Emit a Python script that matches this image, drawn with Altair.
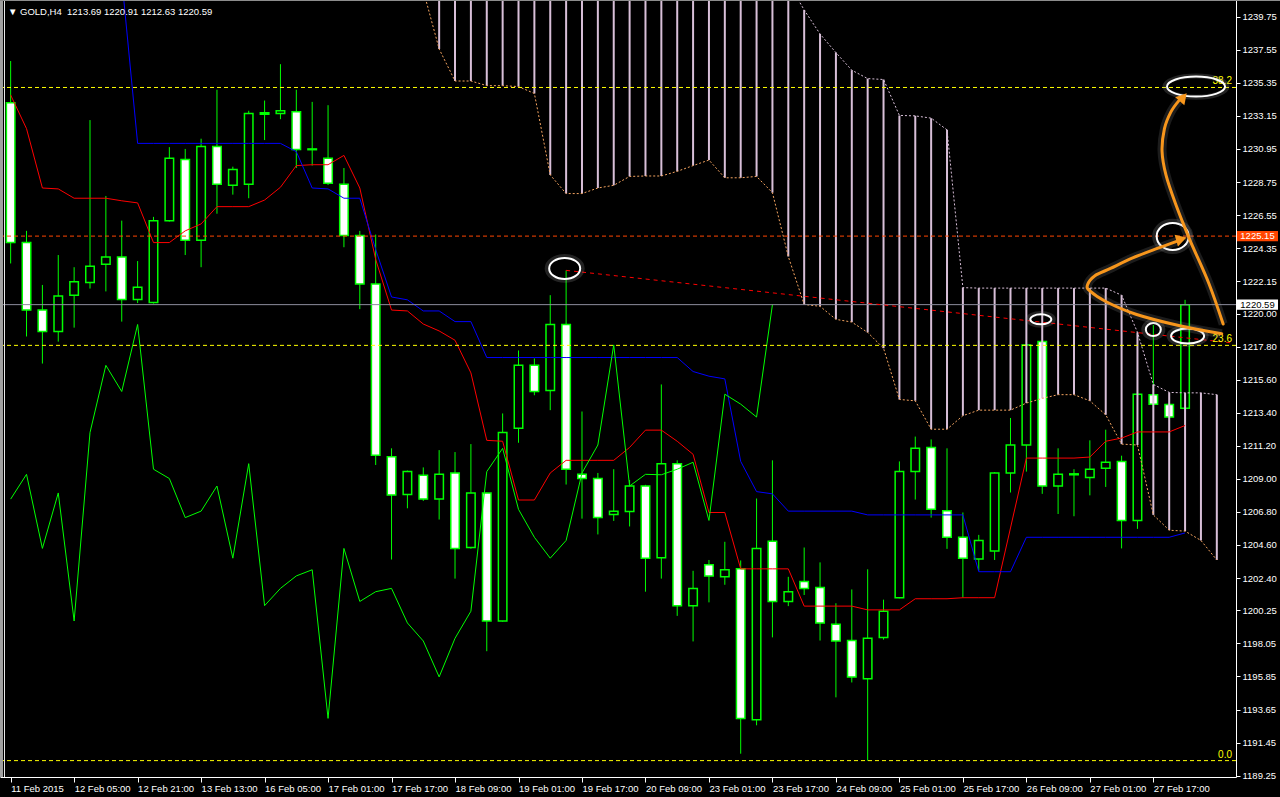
import json
import altair as alt
import pandas as pd

# ---------------- GOLD, H4 candles (bar index 0..74) ----------------
opens = [1234.02, 1224.72, 1220.23, 1218.81, 1221.22, 1222.06, 1223.27, 1223.76, 1220.94, 1220.73,
         1226.18, 1230.24, 1224.88, 1231.11, 1228.54, 1228.60, 1233.25, 1233.31, 1233.43, 1230.95,
         1230.33, 1228.60, 1225.19, 1221.97, 1210.47, 1207.96, 1209.23, 1207.65, 1209.39, 1204.43,
         1208.06, 1199.54, 1212.36, 1216.55, 1214.87, 1219.27, 1209.30, 1209.02, 1206.63, 1206.82,
         1208.52, 1203.75, 1210.01, 1200.56, 1203.29, 1202.48, 1203.01, 1192.97, 1204.84, 1200.84,
         1202.17, 1201.77, 1199.32, 1198.24, 1195.70, 1198.45, 1201.09, 1209.48, 1211.09, 1206.88,
         1205.11, 1203.66, 1204.19, 1209.39, 1211.25, 1218.13, 1208.52, 1209.33, 1209.08, 1209.70,
         1210.16, 1206.23, 1214.60, 1213.94, 1213.69]
highs = [1236.80, 1225.50, 1221.90, 1223.89, 1223.08, 1232.87, 1227.82, 1226.18, 1223.49, 1226.43,
         1231.07, 1230.95, 1231.63, 1234.89, 1229.77, 1233.49, 1234.17, 1236.59, 1234.89, 1234.08,
         1233.86, 1229.68, 1225.50, 1225.25, 1211.03, 1209.55, 1209.76, 1210.91, 1210.78, 1211.31,
         1208.10, 1213.35, 1217.54, 1217.01, 1221.22, 1222.87, 1213.48, 1209.39, 1209.64, 1208.92,
         1208.60, 1215.28, 1210.23, 1202.88, 1203.60, 1204.81, 1203.57, 1207.69, 1210.23, 1202.48,
         1204.43, 1203.44, 1200.72, 1201.64, 1202.98, 1200.96, 1210.16, 1211.81, 1211.62, 1211.03,
         1206.76, 1205.27, 1209.45, 1213.05, 1217.95, 1218.20, 1211.03, 1209.64, 1211.56, 1212.27,
         1210.54, 1214.70, 1219.24, 1214.00, 1220.91]
lows = [1223.33, 1218.47, 1216.67, 1218.13, 1219.06, 1221.66, 1221.47, 1219.46, 1220.70, 1220.66,
        1226.12, 1223.89, 1223.08, 1226.64, 1227.91, 1227.67, 1231.54, 1232.93, 1229.68, 1229.84,
        1228.55, 1224.41, 1220.29, 1209.92, 1203.63, 1207.04, 1207.53, 1206.29, 1202.36, 1204.35,
        1197.53, 1199.50, 1211.40, 1214.56, 1213.57, 1208.62, 1206.35, 1205.30, 1206.20, 1205.83,
        1201.49, 1202.36, 1199.88, 1198.18, 1200.78, 1201.95, 1190.71, 1192.60, 1198.45, 1200.53,
        1201.27, 1198.24, 1194.46, 1195.45, 1190.24, 1198.30, 1201.05, 1207.62, 1206.42, 1204.34,
        1201.09, 1202.88, 1203.60, 1208.09, 1209.48, 1208.00, 1206.66, 1206.51, 1207.90, 1208.46,
        1204.37, 1205.67, 1213.90, 1213.05, 1212.63]
closes = [1224.72, 1220.23, 1218.81, 1221.16, 1222.12, 1223.14, 1223.76, 1220.94, 1221.75, 1226.18,
          1230.33, 1224.88, 1231.11, 1228.60, 1229.59, 1233.31, 1233.35, 1233.49, 1230.92, 1230.90,
          1228.66, 1225.19, 1221.97, 1210.57, 1207.93, 1209.48, 1207.65, 1209.30, 1204.37, 1208.06,
          1199.54, 1212.08, 1216.55, 1214.81, 1219.27, 1209.64, 1209.02, 1206.42, 1206.85, 1208.52,
          1203.72, 1210.01, 1200.56, 1201.71, 1202.54, 1202.95, 1193.06, 1204.37, 1200.84, 1201.49,
          1201.71, 1199.41, 1198.21, 1195.82, 1198.39, 1200.19, 1209.48, 1211.03, 1206.97, 1205.11,
          1203.72, 1204.90, 1209.39, 1211.25, 1217.91, 1208.52, 1209.30, 1209.27, 1209.64, 1210.10,
          1206.23, 1214.63, 1213.97, 1213.11, 1220.59]

# ---------------- Ichimoku lines ----------------
tenkan = [1234.54, 1232.30, 1228.35, 1228.29, 1227.67, 1227.67, 1227.67, 1227.50, 1227.36, 1224.72,
          1224.72, 1225.50, 1225.96, 1227.11, 1227.11, 1227.11, 1227.55, 1228.40, 1229.84, 1229.90,
          1229.90, 1230.52, 1228.35, 1223.60, 1220.23, 1220.17, 1219.30, 1218.84, 1218.22, 1216.05,
          1211.56, 1211.50, 1207.59, 1207.59, 1209.39, 1210.23, 1210.23, 1210.23, 1210.23, 1211.09,
          1212.24, 1212.24, 1211.50, 1210.63, 1206.76, 1206.76, 1203.01, 1203.01, 1203.01, 1203.01,
          1200.53, 1200.53, 1200.53, 1200.53, 1200.28, 1200.28, 1200.28, 1201.02, 1201.02, 1201.02,
          1201.09, 1201.09, 1201.09, 1205.73, 1210.38, 1210.38, 1210.38, 1210.38, 1210.45, 1211.50,
          1211.71, 1212.12, 1212.12, 1212.12, 1212.55]

kijun_start = 7
kijun = [1242.30, 1231.32, 1231.32, 1231.32, 1231.32, 1231.32, 1231.32, 1231.32, 1231.32, 1231.32,
         1231.32, 1230.77, 1228.35, 1228.29, 1227.67, 1227.67, 1224.26, 1221.10, 1220.91, 1220.17,
         1220.17, 1219.46, 1219.46, 1217.07, 1217.07, 1217.07, 1217.07, 1217.07, 1217.07, 1217.07,
         1217.07, 1217.07, 1217.07, 1217.07, 1217.07, 1217.07, 1216.14, 1215.83, 1215.65, 1210.16,
         1208.15, 1208.00, 1206.85, 1206.85, 1206.85, 1206.85, 1206.85, 1206.60, 1206.60, 1206.60,
         1206.60, 1206.60, 1206.60, 1206.60, 1202.82, 1202.82, 1202.82, 1205.11, 1205.11, 1205.11,
         1205.11, 1205.11, 1205.11, 1205.11, 1205.11, 1205.11, 1205.11, 1205.40]

cloud_start = 26
span_a = [1241.50, 1237.60, 1235.47, 1235.47, 1235.16, 1235.16, 1235.10, 1234.64, 1229.22, 1227.98,
          1227.98, 1228.35, 1228.53, 1229.12, 1229.15, 1229.15, 1229.46, 1229.84, 1230.21, 1229.03,
          1229.03, 1229.12, 1228.04, 1223.79, 1220.60, 1220.48, 1219.61, 1219.43, 1218.74, 1217.69,
          1214.28, 1214.19, 1212.30, 1212.30, 1213.20, 1213.57, 1213.57, 1213.57, 1214.04, 1214.35,
          1214.60, 1214.60, 1214.19, 1213.26, 1211.31, 1211.25, 1206.60, 1205.58, 1205.52, 1204.90,
          1203.60]
span_b = [1245.00, 1245.00, 1245.00, 1245.00, 1245.00, 1245.00, 1245.00, 1245.00, 1245.00, 1245.00,
          1245.00, 1245.00, 1245.00, 1245.00, 1245.00, 1245.00, 1245.00, 1245.00, 1245.00, 1245.00,
          1245.00, 1245.00, 1245.00, 1242.00, 1240.20, 1238.60, 1237.36, 1236.19, 1235.63, 1235.57,
          1233.18, 1233.15, 1233.00, 1232.22, 1221.72, 1221.69, 1221.69, 1221.69, 1221.69, 1221.69,
          1221.69, 1221.69, 1221.69, 1221.69, 1221.22, 1218.75, 1215.28, 1214.75, 1214.72, 1214.72,
          1214.60]

chikou_shift = 26

# ---------------- axes ----------------
time_labels = ["11 Feb 2015", "12 Feb 05:00", "12 Feb 21:00", "13 Feb 13:00", "16 Feb 05:00",
               "17 Feb 01:00", "17 Feb 17:00", "18 Feb 09:00", "19 Feb 01:00", "19 Feb 17:00",
               "20 Feb 09:00", "23 Feb 01:00", "23 Feb 17:00", "24 Feb 09:00", "25 Feb 01:00",
               "25 Feb 17:00", "26 Feb 09:00", "27 Feb 01:00", "27 Feb 17:00"]
time_label_step = 4
price_ticks = [1239.75, 1237.55, 1235.35, 1233.15, 1230.95, 1228.75, 1226.55, 1224.35, 1222.15,
               1220.00, 1217.80, 1215.60, 1213.40, 1211.20, 1209.00, 1206.80, 1204.60, 1202.40,
               1200.25, 1198.05, 1195.85, 1193.65, 1191.45, 1189.25]

# ---------------- drawn objects ----------------
fib_names = ["0.0", "23.6", "38.2"]
fib_prices = [1190.25, 1217.88, 1235.04]
alert_price = 1225.15
trend_idx = [35, 76.9]
trend_price = [1222.87, 1218.05]

ellipse_idx = [34.91, 64.91, 72.0, 74.16, 73.22, 74.69]
ellipse_price = [1223.0, 1219.61, 1218.93, 1218.5, 1225.13, 1235.1]
ellipse_w = [31, 21, 15, 33, 32, 58]
ellipse_h = [21, 10, 13, 15, 27, 20]

arrow1_idx = [76.31, 73.6, 70.9, 69.0, 68.0, 67.85, 68.3, 69.3, 70.7, 72.3, 73.6]
arrow1_price = [1218.65, 1219.2, 1219.95, 1220.8, 1221.5, 1221.9, 1222.5, 1223.0, 1223.7, 1224.35, 1224.85]
arrow2_idx = [76.4, 75.5, 74.3, 73.4, 72.8, 72.55, 72.7, 73.1, 73.6]
arrow2_price = [1219.3, 1222.0, 1224.9, 1227.3, 1229.2, 1230.8, 1232.3, 1233.4, 1234.15]
head_idx = [73.66, 73.81]
head_price = [1224.92, 1234.3]
head_angle = [74, 41]

# ---------------- frames ----------------
n = len(closes)
candles = pd.DataFrame({"idx": list(range(n)), "open": opens, "high": highs,
                        "low": lows, "close": closes})
tenkan_df = pd.DataFrame({"idx": list(range(n)), "v": tenkan})
kijun_df = pd.DataFrame({"idx": list(range(kijun_start, kijun_start + len(kijun))), "v": kijun})
cloud_df = pd.DataFrame({"idx": list(range(cloud_start, cloud_start + len(span_a))),
                         "a": span_a, "b": span_b})
chikou_df = pd.DataFrame({"idx": [i - chikou_shift for i in range(chikou_shift, n)],
                          "v": closes[chikou_shift:]})
fib_df = pd.DataFrame({"price": fib_prices, "label": fib_names})
trend_df = pd.DataFrame({"idx": trend_idx, "price": trend_price})
arrow1_df = pd.DataFrame({"idx": arrow1_idx, "price": arrow1_price, "ord": list(range(len(arrow1_idx)))})
arrow2_df = pd.DataFrame({"idx": arrow2_idx, "price": arrow2_price, "ord": list(range(len(arrow2_idx)))})

PLOT_W, PLOT_H = 1236, 777
xs = alt.Scale(domain=[-0.356, 76.894], nice=False, zero=False)
ys = alt.Scale(domain=[1189.16, 1240.86], nice=False, zero=False)
FONT = "Liberation Sans"
FS = 9.5

label_expr = json.dumps(time_labels) + f"[round(datum.value / {time_label_step})]"
x_axis = alt.Axis(values=list(range(0, time_label_step * len(time_labels), time_label_step)),
                  labelExpr=label_expr, title=None, grid=False, orient="bottom",
                  domainColor="white", domainWidth=1, tickColor="white", tickSize=5,
                  labelColor="white", labelFont=FONT, labelFontSize=FS, labelAlign="left",
                  labelBaseline="top", labelPadding=1, labelOverlap=False,
                  labelFlush=False)
y_axis = alt.Axis(values=price_ticks, format=".2f", orient="right", title=None, grid=False,
                  domainColor="white", domainWidth=1, tickColor="white", tickSize=4,
                  labelColor="white", labelFont=FONT, labelFontSize=FS, labelPadding=2,
                  labelOverlap=False, labelFlush=False)


def X(field="idx"):
    return alt.X(field, type="quantitative", scale=xs, axis=x_axis)


def Y(field):
    return alt.Y(field, type="quantitative", scale=ys, axis=y_axis)


LIME = "#00ff00"
layers = []

# candles
layers.append(alt.Chart(candles).mark_rule(color=LIME, strokeWidth=1)
              .encode(x=X(), y=Y("low"), y2="high"))
layers.append(alt.Chart(candles).transform_filter("datum.close >= datum.open")
              .mark_bar(size=8.5, fill="black", stroke=LIME, strokeWidth=1.5)
              .encode(x=X(), y=Y("open"), y2="close"))
layers.append(alt.Chart(candles).transform_filter("datum.close < datum.open")
              .mark_bar(size=8.5, fill="white", stroke=LIME, strokeWidth=1.5)
              .encode(x=X(), y=Y("open"), y2="close"))

# kumo
layers.append(alt.Chart(cloud_df).mark_rule(color="#d8bfd8", strokeWidth=2, clip=True)
              .encode(x=X(), y=Y("a"), y2="b"))
layers.append(alt.Chart(cloud_df).mark_line(color="#f4a460", strokeWidth=1, strokeDash=[2, 2], clip=True)
              .encode(x=X(), y=Y("a")))
layers.append(alt.Chart(cloud_df).mark_line(color="#d8bfd8", strokeWidth=1, strokeDash=[2, 2], clip=True)
              .encode(x=X(), y=Y("b")))

# tenkan / kijun / chikou
layers.append(alt.Chart(tenkan_df).mark_line(color="#ff0000", strokeWidth=1, clip=True)
              .encode(x=X(), y=Y("v")))
layers.append(alt.Chart(kijun_df).mark_line(color="#0000ff", strokeWidth=1, clip=True)
              .encode(x=X(), y=Y("v")))
layers.append(alt.Chart(chikou_df).mark_line(color=LIME, strokeWidth=1, clip=True)
              .encode(x=X(), y=Y("v")))

# horizontal levels
layers.append(alt.Chart(fib_df).mark_rule(color="#ffff00", strokeWidth=1, strokeDash=[4, 3])
              .encode(y=Y("price")))
layers.append(alt.Chart(pd.DataFrame({"price": [alert_price]}))
              .mark_rule(color="#ff4500", strokeWidth=1, strokeDash=[4, 3])
              .encode(y=Y("price")))
layers.append(alt.Chart(pd.DataFrame({"price": [closes[-1]]}))
              .mark_rule(color="#8c8c9c", strokeWidth=1)
              .encode(y=Y("price")))

# trend line
layers.append(alt.Chart(trend_df).mark_line(color="#ff0000", strokeWidth=1, strokeDash=[4, 4], clip=True)
              .encode(x=X(), y=Y("price")))

# fib level captions
layers.append(alt.Chart(fib_df).mark_text(align="right", baseline="bottom", dy=-1, color="#ffff00",
                                          font=FONT, fontSize=10)
              .encode(x=alt.value(1232), y=Y("price"), text="label:N"))


# ellipses
def ellipse_path(w, h):
    r = h / w
    return f"M-1,0 A1,{r:.4f} 0 1,1 1,0 A1,{r:.4f} 0 1,1 -1,0 Z"


for i in range(len(ellipse_idx)):
    edf = pd.DataFrame({"idx": [ellipse_idx[i]], "price": [ellipse_price[i]]})
    shape = ellipse_path(ellipse_w[i], ellipse_h[i])
    layers.append(alt.Chart(edf).mark_point(shape=shape, size=(ellipse_w[i] + 4) ** 2, filled=False,
                                            stroke="#9a9a9a", strokeWidth=5, opacity=0.22)
                  .encode(x=X(), y=Y("price")))
    layers.append(alt.Chart(edf).mark_point(shape=shape, size=ellipse_w[i] ** 2, filled=False,
                                            stroke="white", strokeWidth=2, opacity=1)
                  .encode(x=X(), y=Y("price")))

# orange arrows
ORANGE = "#f7961c"
for adf in (arrow1_df, arrow2_df):
    layers.append(alt.Chart(adf).mark_line(color="#9a9a9a", strokeWidth=9, opacity=0.18,
                                           interpolate="cardinal")
                  .encode(x=X(), y=Y("price"), order="ord:Q"))
    layers.append(alt.Chart(adf).mark_line(color=ORANGE, strokeWidth=3, interpolate="cardinal",
                                           strokeCap="round")
                  .encode(x=X(), y=Y("price"), order="ord:Q"))
for i in range(len(head_idx)):
    hdf = pd.DataFrame({"idx": [head_idx[i]], "price": [head_price[i]]})
    layers.append(alt.Chart(hdf).mark_point(shape="triangle", size=150, filled=True, fill=ORANGE,
                                            opacity=1, angle=head_angle[i])
                  .encode(x=X(), y=Y("price")))

# price tags on the scale
tag_shape = "M-1,-0.25 L1,-0.25 L1,0.25 L-1,0.25 Z"
tags = [(alert_price, "#ff4500", "white"), (closes[-1], "white", "black")]
for price, bg, fg in tags:
    tdf = pd.DataFrame({"price": [price], "txt": [f"{price:.2f}"]})
    layers.append(alt.Chart(tdf).mark_point(shape=tag_shape, size=41 ** 2, filled=True, fill=bg,
                                            opacity=1, strokeWidth=0)
                  .encode(x=alt.value(1257.5), y=Y("price")))
    layers.append(alt.Chart(tdf).mark_text(align="center", baseline="middle", color=fg,
                                           font=FONT, fontSize=FS)
                  .encode(x=alt.value(1257.5), y=Y("price"), text="txt:N"))

# chart caption (non-breaking spaces keep the double gap)
caption = (f"\u25bc GOLD,H4\u00a0\u00a0{opens[-1]:.2f} {highs[-1]:.2f} "
           f"{lows[-1]:.2f} {closes[-1]:.2f}")
layers.append(alt.Chart(pd.DataFrame({"t": [caption]}))
              .mark_text(align="left", baseline="middle", color="white", font=FONT, fontSize=FS)
              .encode(x=alt.value(8), y=alt.value(12), text="t:N"))

# window frame
layers.append(alt.Chart(pd.DataFrame({"k": [0]})).mark_rule(color="#a0a0a0", strokeWidth=3)
              .encode(x=alt.value(1.5), y=alt.value(0), y2=alt.value(PLOT_H)))
layers.append(alt.Chart(pd.DataFrame({"k": [0]})).mark_rule(color="#e8e8e8", strokeWidth=1)
              .encode(x=alt.value(4.5), y=alt.value(0), y2=alt.value(PLOT_H)))
layers.append(alt.Chart(pd.DataFrame({"k": [0]})).mark_rule(color="#8c8c8c", strokeWidth=1)
              .encode(x=alt.value(0), x2=alt.value(1280), y=alt.value(0.5)))

chart = alt.layer(*layers).properties(
    width=PLOT_W, height=PLOT_H,
    padding={"left": 0, "top": 0, "right": 44, "bottom": 20},
    autosize=alt.AutoSizeParams(type="none"),
    background="black",
).configure_view(stroke=None)

chart.save("out.html", embed_options={"renderer": "svg", "actions": False})
